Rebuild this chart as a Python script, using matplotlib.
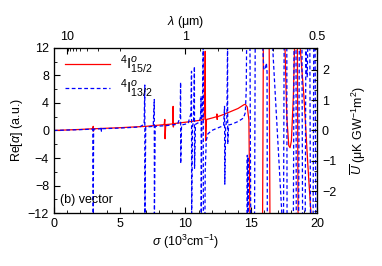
import numpy as np
import matplotlib
matplotlib.use("Agg")
import matplotlib.pyplot as plt
from matplotlib.ticker import MultipleLocator, FixedLocator

plt.rcParams['font.family'] = ['Liberation Sans', 'DejaVu Sans']
plt.rcParams['font.size'] = 9
plt.rcParams['mathtext.fontset'] = 'custom'
plt.rcParams['mathtext.rm'] = 'Liberation Sans'
plt.rcParams['mathtext.it'] = 'Liberation Sans:italic'

nan = np.nan

# 4I15/2 (red, solid): (sigma [10^3 cm^-1], Re[alpha])
red = np.array([
    (0.0, 0.0), (2.0, 0.15), (2.96, 0.25), (2.99, 0.6), (3.01, -0.1), (3.04, 0.25),
    (5.0, 0.4), (7.0, 0.6), (8.38, 0.85), (8.43, 1.6), (8.45, -1.2), (8.50, 0.85),
    (9.02, 0.95), (9.06, 3.5), (9.08, 0.5), (9.12, 1.0),
    (10.0, 1.2), (11.0, 1.45), (11.4, 1.6), (11.47, 4.0), (11.5, 11.5), (11.53, -1.5),
    (11.6, 1.6), (12.0, 1.8), (12.36, 2.0), (12.39, 2.4), (12.41, 1.6), (12.44, 2.0),
    (13.0, 2.4), (14.0, 3.2), (14.45, 3.75), (14.55, 3.8), (14.7, 3.4), (14.82, 1.5),
    (14.9, -13), (15.86, -13), (15.92, 13), (16.36, 13), (16.42, -13), (nan, nan),
    (17.55, 13), (17.7, 2.0), (17.85, -2.2), (17.95, -2.5), (18.05, -1.5), (18.2, 5.0),
    (18.3, 13), (18.5, 13), (18.56, -13), (nan, nan),
    (18.7, 12.5), (19.0, 5.0), (19.3, -5.0), (19.55, -12.5),
])

# 4I13/2 (blue, dashed)
blue = np.array([
    (0.0, 0.0), (2.0, 0.12), (2.96, 0.2), (2.99, -13), (3.02, 0.2),
    (3.57, 0.25), (3.6, 0.55), (3.61, -0.1), (3.64, 0.25),
    (5.0, 0.35), (6.5, 0.5), (6.86, 0.9), (6.91, 6.6), (6.92, -13), (6.98, 0.5),
    (7.55, 0.6), (7.63, 4.5), (7.64, -13), (7.7, 0.6),
    (8.5, 0.7), (9.4, 0.9), (9.6, 2.0), (9.63, 7.0), (9.64, -4.8), (9.7, 0.8),
    (10.2, 1.0), (10.42, 2.5), (10.46, 8.6), (10.47, -13), (10.53, 0.5),
    (10.62, 1.5), (10.68, 9.3), (10.69, -5.5), (10.76, 0.9),
    (11.05, 1.2), (11.15, 2.0), (11.19, 5.0), (11.2, -13), (11.24, 1.0), (11.3, 4.0),
    (11.35, 13), (11.36, -13), (11.48, -13), (11.5, -6.0), (11.58, -1.5), (11.7, -0.5),
    (12.0, 0.0), (12.5, 0.4), (12.9, 0.7),
    (12.97, 3.5), (12.99, -7.8), (13.05, 0.3), (13.15, 2.0), (13.2, 13), (13.21, -2.0),
    (13.28, 0.8), (13.5, 0.9), (14.0, 1.3), (14.4, 1.8), (14.55, 2.6), (14.62, 6.0),
    (14.65, 13), (nan, nan),
    (14.68, -13), (14.7, -3.6), (14.72, -13), (14.75, -3.8), (14.78, -13), (nan, nan),
    (14.9, 13), (14.96, -13), (15.25, -13), (15.3, 13), (15.85, 13), (15.95, 9.0),
    (16.05, 8.8), (16.15, 9.8), (16.2, 8.5), (16.22, -13), (nan, nan),
    (16.6, 13), (17.35, -13), (17.45, -13), (17.5, 13), (17.7, 13), (17.72, -13),
    (18.2, -13), (18.25, 13), (18.4, 13), (18.42, -13), (18.6, -13), (18.65, 13),
    (18.85, 13), (18.9, -13), (19.1, -13), (19.15, 13), (19.2, 9.0), (19.25, 7.8),
    (19.3, 13), (19.45, 13), (19.5, -13), (19.7, -13), (19.75, 13), (19.85, 13),
    (19.9, -13),
])

lam_major = [10, 1, 0.5]
lam_minor = [9, 8, 7, 6, 5, 4, 3, 2, 0.9, 0.8, 0.7, 0.6]
u_scale = 2.72  # right axis limit matching |Re alpha| = 12

fig = plt.figure(figsize=(3.82, 2.66), dpi=100)
ax = fig.add_axes([0.141, 0.199, 0.689, 0.621])

ax.plot(red[:, 0], red[:, 1], color='#ff0000', lw=0.9, label=r'$^4\mathrm{I}^{o}_{15/2}$')
ax.plot(blue[:, 0], blue[:, 1], color='#0000ff', lw=0.9, dashes=(3, 2),
        label=r'$^4\mathrm{I}^{o}_{13/2}$')

ax.set_xlim(0, 20)
ax.set_ylim(-12, 12)
ax.xaxis.set_major_locator(MultipleLocator(5))
ax.xaxis.set_minor_locator(MultipleLocator(1))
ax.yaxis.set_major_locator(MultipleLocator(4))
ax.yaxis.set_minor_locator(MultipleLocator(2))
ax.tick_params(which='both', direction='in', top=False, right=False)
ax.tick_params(which='major', length=4)
ax.tick_params(which='minor', length=2)
ax.set_xlabel(r'$\sigma$ (10$^3$cm$^{-1}$)', labelpad=2)
ax.set_ylabel(r'Re[$\alpha$] (a.u.)', labelpad=2)

ax.text(0.025, 0.04, '(b) vector', transform=ax.transAxes, ha='left', va='bottom')

leg = ax.legend(loc='upper left', bbox_to_anchor=(0.0, 1.03), frameon=False, fontsize=11,
                handlelength=3.0, handletextpad=0.6, labelspacing=0.1, borderaxespad=0.3)

axr = ax.twinx()
axr.set_ylim(-u_scale, u_scale)
axr.yaxis.set_major_locator(MultipleLocator(1))
axr.yaxis.set_minor_locator(MultipleLocator(1 / 3))
axr.tick_params(which='both', direction='in')
axr.tick_params(which='major', length=4)
axr.tick_params(which='minor', length=2)
axr.set_ylabel(r'$\overline{U}$ (μK GW$^{-1}$m$^2$)', labelpad=9)

axt = ax.twiny()
axt.set_xlim(0, 20)
axt.xaxis.set_major_locator(FixedLocator([10 / l for l in lam_major]))
axt.set_xticklabels([f'{l:g}' for l in lam_major])
axt.xaxis.set_minor_locator(FixedLocator([10 / l for l in lam_minor]))
axt.tick_params(which='both', direction='in')
axt.tick_params(which='major', length=4)
axt.tick_params(which='minor', length=2)
axt.set_xlabel(r'$\lambda$ (μm)', labelpad=4)

fig.savefig('out.png', dpi=100)
